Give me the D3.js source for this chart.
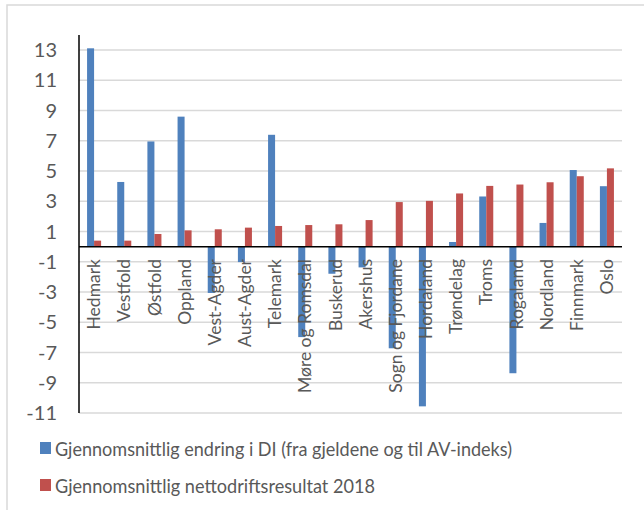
<!DOCTYPE html>
<html>
<head>
<meta charset="utf-8">
<script src="https://cdn.jsdelivr.net/npm/d3@7"></script>
<style>
  body{margin:0;background:#fff;}
  text{font-family:Lato,"Open Sans",sans-serif;fill:#595959;}
</style>
</head>
<body>
<div id="chart"></div>
<script>
const regions=["Hedmark","Vestfold","Østfold","Oppland","Vest-Agder","Aust-Agder","Telemark","Møre og Romsdal","Buskerud","Akershus","Sogn og Fjordane","Hordaland","Trøndelag","Troms","Rogaland","Nordland","Finnmark","Oslo"];
const endringDI=[13.12,4.28,6.96,8.6,-3.06,-1.02,7.4,-5.98,-1.79,-1.37,-6.72,-10.56,0.31,3.32,-8.37,1.57,5.07,4.0];
const nettodrift=[0.4,0.4,0.84,1.08,1.15,1.26,1.37,1.43,1.48,1.76,2.95,3.03,3.52,4.02,4.11,4.26,4.66,5.18];
const seriesNames=["Gjennomsnittlig endring i DI (fra gjeldene og til AV-indeks)","Gjennomsnittlig nettodriftsresultat 2018"];
const yTicks=[-11,-9,-7,-5,-3,-1,1,3,5,7,9,11,13];

const w=644,h=510;
const colors=["#4f81bd","#c0504d"];

const svg=d3.select("#chart").append("svg").attr("width",w).attr("height",h);

// outer frame
svg.append("rect").attr("x",7).attr("y",5).attr("width",w).attr("height",h)
  .attr("fill","none").attr("stroke","#d9d9d9").attr("stroke-width",1.5);

const x=d3.scaleBand().domain(regions).range([79,622]);
const x1=d3.scaleBand().domain([0,1]).range([0,x.bandwidth()]).paddingInner(0).paddingOuter(1.15);
const y=d3.scaleLinear().domain([-11,14]).range([413,35]);

// gridlines
svg.append("g").selectAll("line").data(yTicks).enter().append("line")
  .attr("x1",79).attr("x2",622)
  .attr("y1",d=>y(d)).attr("y2",d=>y(d))
  .attr("stroke","#d9d9d9").attr("stroke-width",1.5);

// y labels
svg.append("g").selectAll("text").data(yTicks).enter().append("text")
  .attr("x",57).attr("y",d=>y(d)).attr("dy","0.35em")
  .attr("text-anchor","end").style("font-size","20px")
  .text(d=>d);

// bars
const groups=svg.append("g").selectAll("g").data(regions).enter().append("g")
  .attr("transform",d=>`translate(${x(d)},0)`);
groups.selectAll("rect").data((d,i)=>[endringDI[i],nettodrift[i]]).enter().append("rect")
  .attr("x",(d,j)=>x1(j))
  .attr("width",x1.bandwidth())
  .attr("y",d=>y(Math.max(0,d)))
  .attr("height",d=>Math.abs(y(d)-y(0)))
  .attr("fill",(d,j)=>colors[j]);

// axes lines
svg.append("line").attr("x1",79).attr("x2",622).attr("y1",y(0)).attr("y2",y(0))
  .attr("stroke","#000").attr("stroke-width",1.5);
svg.append("line").attr("x1",79).attr("x2",79).attr("y1",y(14)).attr("y2",y(-11))
  .attr("stroke","#000").attr("stroke-width",1.5);

// category labels
svg.append("g").selectAll("text").data(regions).enter().append("text")
  .attr("transform",d=>`translate(${x(d)+x.bandwidth()/2},259) rotate(-90)`)
  .attr("dy","0.35em").attr("text-anchor","end")
  .style("font-size","17.5px")
  .text(d=>d);

// legend
const legend=svg.append("g").selectAll("g").data(seriesNames).enter().append("g")
  .attr("transform",(d,i)=>`translate(40,${442+i*37})`);
legend.append("rect").attr("width",11).attr("height",12).attr("fill",(d,i)=>colors[i]);
legend.append("text").attr("x",15).attr("y",14).style("font-size","20px")
  .attr("textLength",(d,i)=>i==0?457:320).attr("lengthAdjust","spacingAndGlyphs")
  .text(d=>d);
</script>
</body>
</html>
